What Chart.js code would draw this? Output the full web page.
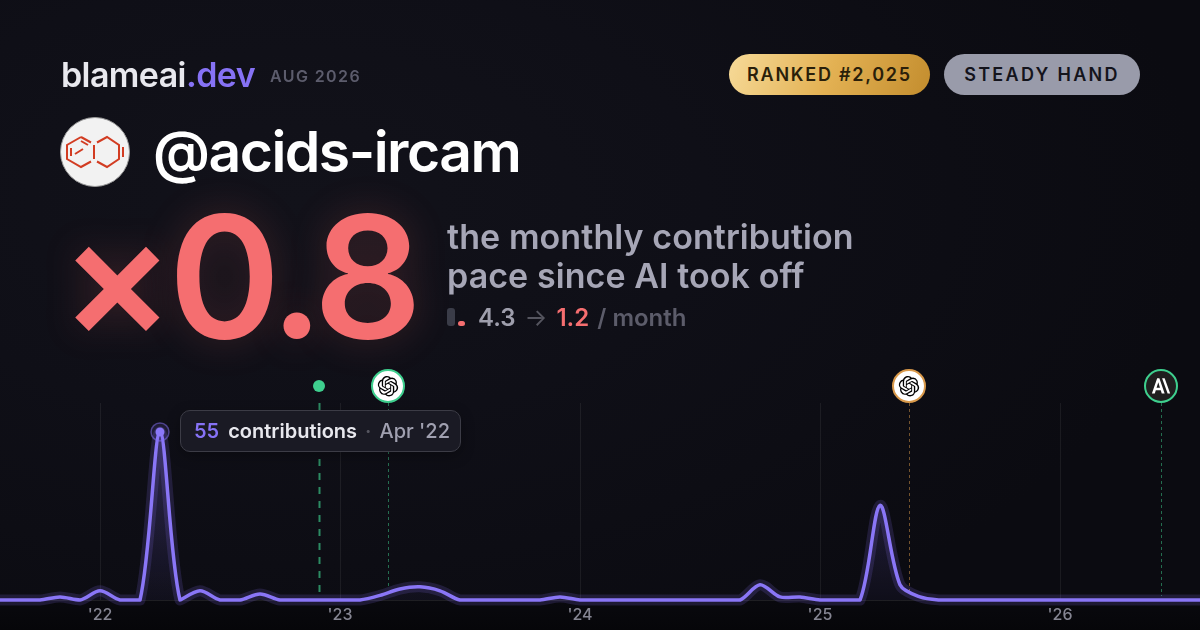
<!DOCTYPE html>
<html><head><meta charset="utf-8">
<script src="https://cdn.jsdelivr.net/npm/chart.js@4/dist/chart.umd.min.js"></script>
<style>
*{box-sizing:border-box}
html,body{margin:0;padding:0;width:1200px;height:630px;overflow:hidden;background:#0b0b11}
body{position:relative;font-family:Inter,sans-serif;background:radial-gradient(ellipse 900px 500px at 25% 32%,#12121a 0%,#0f0f17 45%,#0b0b11 100%)}
.abs{position:absolute;white-space:nowrap}
#floor{left:0;top:600px;width:1200px;height:30px;background:linear-gradient(#09090e,#060609)}
canvas{position:absolute;left:0;top:0}
#brand{left:61px;top:54px;font-size:34px;font-weight:600;letter-spacing:-.6px;color:#e8e8ee;line-height:42px}
#brand span{color:#8672f5}
#date{left:270px;top:66px;font-size:16px;font-weight:600;letter-spacing:1.4px;color:#5c5c6c;line-height:20px}
.badge{top:54px;height:41px;border-radius:21px;font-size:18px;font-weight:600;letter-spacing:1.75px;line-height:41px;text-align:center}
#rank{left:729px;width:201px;background:linear-gradient(110deg,#f6da98,#e3b153 50%,#c38d2e);color:#2a1f0a}
#hand{left:944px;width:196px;background:#999baa;color:#14141c;letter-spacing:2.3px}
#avatar{left:60px;top:117px;width:70px;height:70px}
#handle{left:153px;top:117px;font-size:57px;font-weight:600;letter-spacing:-1.5px;color:#fff;line-height:70px}
#mult{left:60px;top:176px;font-size:170px;font-weight:600;letter-spacing:-6px;color:#f56e70;line-height:200px;text-shadow:0 0 40px rgba(245,110,112,.2)}
.sub{left:447px;font-size:34px;font-weight:600;letter-spacing:.08px;color:#a6a6b6;line-height:40px}
#stat{left:478px;top:303px;font-size:24px;font-weight:600;color:#9e9eac;line-height:30px}
#stat .a{color:#55555f;margin:0 9px;font-weight:400}#stat .r{color:#f56e70;font-weight:600}#stat .m{color:#5c5c6a;margin-left:2px}
#bar1{left:447px;top:308px;width:8px;height:18px;border-radius:3px;background:#3a3c48}
#bar2{left:458px;top:321px;width:7px;height:5px;border-radius:2.5px;background:#f56e70}
#tip{left:180px;top:410px;width:281px;height:42px;border-radius:10px;background:#1a1a24;border:1px solid #3c3c46;font-size:20px;font-weight:600;line-height:40px;padding-left:13px;color:#e8e8ee;box-shadow:0 4px 14px rgba(0,0,0,.3)}
#tip b{color:#8672f5;font-weight:600;margin-right:9px}#tip i{font-style:normal;color:#55555f;margin:0 8px}#tip em{font-style:normal;font-weight:500;color:#a0a0b0}
</style></head><body>
<div id="floor" class="abs"></div>
<canvas id="c" width="1200" height="630"></canvas>
<div id="brand" class="abs">blameai<span>.dev</span></div>
<div id="date" class="abs">AUG 2026</div>
<div id="rank" class="abs badge">RANKED #2,025</div>
<div id="hand" class="abs badge">STEADY HAND</div>
<svg id="avatar" class="abs" viewBox="0 0 70 70"><circle cx="35" cy="35" r="34.5" fill="#f2f2f2" stroke="#9a9a9a" stroke-width="1"/>
<g fill="none" stroke="#d23c22" stroke-width="2"><path d="M21 20 L7 28 V42 L21 50 L31 44.5 M31 25.500 L21 20"/><path d="M37 25.500 L47 20 L59 28 V42 L47 50 L37 44.500"/><path d="M34 28 V42 M11 31 V39 M63 30 V40 M15 37 L23 32 M21 24 L28 28"/></g></svg>
<div id="handle" class="abs">@acids-ircam</div>
<div id="mult" class="abs">×0.8</div>
<div class="abs sub" style="top:217px">the monthly contribution</div>
<div class="abs sub" style="top:256px">pace since AI took off</div>
<div id="bar1" class="abs"></div><div id="bar2" class="abs"></div>
<div id="stat" class="abs">4.3<span class="a">→</span><span class="r">1.2</span> <span class="m">/ month</span></div>
<div id="tip" class="abs"><b>55</b>contributions<i>·</i><em>Apr '22</em></div>
<script>
const categories=["Aug '21","Sep '21","Oct '21","Nov '21","Dec '21","Jan '22","Feb '22","Mar '22","Apr '22","May '22","Jun '22","Jul '22","Aug '22","Sep '22","Oct '22","Nov '22","Dec '22","Jan '23","Feb '23","Mar '23","Apr '23","May '23","Jun '23","Jul '23","Aug '23","Sep '23","Oct '23","Nov '23","Dec '23","Jan '24","Feb '24","Mar '24","Apr '24","May '24","Jun '24","Jul '24","Aug '24","Sep '24","Oct '24","Nov '24","Dec '24","Jan '25","Feb '25","Mar '25","Apr '25","May '25","Jun '25","Jul '25","Aug '25","Sep '25","Oct '25","Nov '25","Dec '25","Jan '26","Feb '26","Mar '26","Apr '26","May '26","Jun '26","Jul '26","Aug '26"];
const contributions=[0,0,0,1,0,3,0,0,55,0,3,0,0,2,0,0,0,0,0,1.5,3.6,4.3,3,0,0,0,0,0,1,0,0,0,0,0,0,0,0,0,5,1,1,0,0,0,31,5,1,0,0,0,0,0,0,0,0,0,0,0,0,0,0];
const eventPositions=[15.95,19.4,45.45,58.05];
const eventLineEnds=[0,4.3,1.6,1.3];
const eventColors=['#3ecf8e','#3ecf8e','#d9994a','#3ecf8e'];
const eventIcons=['dot','openai','openai','anthropic'];
const peakIndex=8;
const yMax=64.5;
const curveTension=.3;
const OPENAI="M22.2819 9.8211a5.9847 5.9847 0 0 0-.5157-4.9108 6.0462 6.0462 0 0 0-6.5098-2.9A6.0651 6.0651 0 0 0 4.9807 4.1818a5.9847 5.9847 0 0 0-3.9977 2.9 6.0462 6.0462 0 0 0 .7427 7.0966 5.98 5.98 0 0 0 .511 4.9107 6.051 6.051 0 0 0 6.5146 2.9001A5.9847 5.9847 0 0 0 13.2599 24a6.0557 6.0557 0 0 0 5.7718-4.2058 5.9894 5.9894 0 0 0 3.9977-2.9001 6.0557 6.0557 0 0 0-.7475-7.0729zm-9.022 12.6081a4.4755 4.4755 0 0 1-2.8764-1.0408l.1419-.0804 4.7783-2.7582a.7948.7948 0 0 0 .3927-.6813v-6.7369l2.02 1.1686a.071.071 0 0 1 .038.052v5.5826a4.504 4.504 0 0 1-4.4945 4.4944zm-9.6607-4.1254a4.4708 4.4708 0 0 1-.5346-3.0137l.142.0852 4.783 2.7582a.7712.7712 0 0 0 .7806 0l5.8428-3.3685v2.3324a.0804.0804 0 0 1-.0332.0615L9.74 19.9502a4.4992 4.4992 0 0 1-6.1408-1.6464zM2.3408 7.8956a4.485 4.485 0 0 1 2.3655-1.9728V11.6a.7664.7664 0 0 0 .3879.6765l5.8144 3.3543-2.0201 1.1685a.0757.0757 0 0 1-.071 0l-4.8303-2.7865A4.504 4.504 0 0 1 2.3408 7.872zm16.5963 3.8558L13.1038 8.364 15.1192 7.2a.0757.0757 0 0 1 .071 0l4.8303 2.7913a4.4944 4.4944 0 0 1-.6765 8.1042v-5.6772a.79.79 0 0 0-.407-.667zm2.0107-3.0231l-.142-.0852-4.7735-2.7818a.7759.7759 0 0 0-.7854 0L9.409 9.2297V6.8974a.0662.0662 0 0 1 .0284-.0615l4.8303-2.7866a4.4992 4.4992 0 0 1 6.6802 4.66zM8.3065 12.863l-2.02-1.1638a.0804.0804 0 0 1-.038-.0567V6.0742a4.4992 4.4992 0 0 1 7.3757-3.4537l-.142.0805L8.704 5.459a.7948.7948 0 0 0-.3927.6813zm1.0976-2.3654l2.602-1.4998 2.6069 1.4998v2.9994l-2.5974 1.4997-2.6067-1.4997Z";
const ANTHROPIC="M6.2 2 L0 20 H3.4 L4.6 16.200 H10.4 L11.600 20 H15 L8.800 2 Z M5.500 13.300 L7.500 6.800 L9.500 13.300 Z M12 2 H15 L21.500 20 H18.500 Z";
const overlay={id:'overlay',
 beforeDatasetsDraw(ch){
  const x=ch.scales.x,y=ch.scales.y,c=ch.ctx;
  eventPositions.forEach((p,i)=>{
   const px=Math.round(x.getPixelForValue(p))+.5;
   c.save();
   c.strokeStyle=eventColors[i];
   if(i===0){c.lineWidth=2;c.globalAlpha=.65;c.setLineDash([7,7]);}
   else{c.lineWidth=1;c.globalAlpha=.5;c.setLineDash([3,3]);}
   c.beginPath();c.moveTo(px,403);c.lineTo(px,y.getPixelForValue(eventLineEnds[i]));c.stroke();
   c.restore();
  });
 },
 afterDatasetsDraw(ch){
  const x=ch.scales.x,y=ch.scales.y,c=ch.ctx;
  eventPositions.forEach((p,i)=>{
   const px=x.getPixelForValue(p),cy=386;
   c.save();
   if(eventIcons[i]==='dot'){c.fillStyle=eventColors[i];c.beginPath();c.arc(px,cy,6,0,7);c.fill();}
   else{
    c.beginPath();c.arc(px,cy,16,0,7);
    c.fillStyle=eventIcons[i]==='openai'?'#fff':'#1f1f1f';c.fill();
    c.lineWidth=2;c.strokeStyle=eventColors[i];c.stroke();
    if(eventIcons[i]==='openai'){c.translate(px-10.2,cy-10);c.scale(.85,.85);c.fillStyle='#000';c.fill(new Path2D(OPENAI));}
    else{c.translate(px-9.1,cy-9.5);c.scale(.85,.85);c.fillStyle='#fff';c.fill(new Path2D(ANTHROPIC));}
   }
   c.restore();
  });
  const qx=x.getPixelForValue(peakIndex),qy=y.getPixelForValue(contributions[peakIndex]);
  c.save();
  c.beginPath();c.arc(qx,qy,9,0,7);c.fillStyle='rgba(134,114,245,.14)';c.fill();c.lineWidth=1.500;c.strokeStyle='rgba(134,114,245,.5)';c.stroke();
  c.beginPath();c.arc(qx,qy,4.500,0,7);c.fillStyle='#8b78f8';c.fill();
  c.restore();
 }};
new Chart(document.getElementById('c'),{type:'line',
 data:{labels:categories,datasets:[
  {data:contributions,borderColor:'rgba(134,114,245,.17)',borderWidth:11,pointRadius:0,tension:curveTension,clip:false,borderJoinStyle:'round',
   fill:'origin',backgroundColor(ctx){const a=ctx.chart.chartArea;if(!a)return 'transparent';const g=ctx.chart.ctx.createLinearGradient(0,a.top+20,0,a.bottom);g.addColorStop(0,'rgba(134,114,245,.28)');g.addColorStop(1,'rgba(134,114,245,.04)');return g;}},
  {data:contributions,borderColor:'#8b78f8',borderWidth:3.5,pointRadius:0,tension:curveTension,clip:false,fill:false,borderJoinStyle:'round'}
 ]},
 options:{responsive:false,animation:false,devicePixelRatio:1,
  layout:{padding:{top:403,left:0,right:0,bottom:0}},
  plugins:{legend:{display:false},tooltip:{enabled:false}},
  scales:{
   y:{display:false,min:0,max:yMax},
   x:{offset:false,
    afterFit(s){s.height=30;s.paddingLeft=0;s.paddingRight=0;},
    border:{color:'rgba(255,255,255,.09)'},
    grid:{drawTicks:false,lineWidth:1,color(ctx){const l=categories[ctx.index];return l&&l.startsWith('Jan')?'rgba(255,255,255,.065)':'transparent';}},
    ticks:{autoSkip:false,maxRotation:0,padding:6,color:'#858592',font:{family:'Inter',size:16,weight:'500'},
     callback(v,i){const l=categories[i];return l.startsWith('Jan')?l.slice(4):'';}}
   }}},
 plugins:[overlay]});
</script>
</body></html>
